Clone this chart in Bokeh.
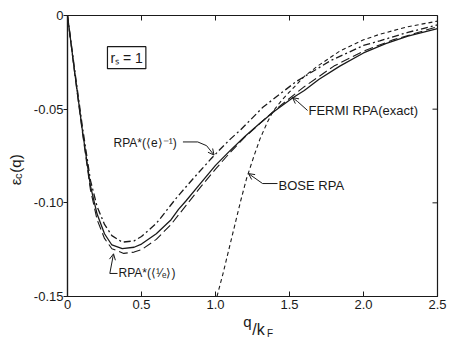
from bokeh.plotting import figure
from bokeh.models import Label, Arrow, OpenHead, FixedTicker, Range1d, LinearAxis
from bokeh.embed import file_html
from bokeh.resources import INLINE

# ---- data ----
q_fermi = [0, 0.05, 0.1, 0.155, 0.2, 0.25, 0.3, 0.37, 0.45, 0.5, 0.6, 0.7, 0.75, 0.8, 0.9,
           1.0, 1.1, 1.2, 1.3, 1.4, 1.52, 1.6, 1.7, 1.84, 2.0, 2.15, 2.3, 2.5]
eps_fermi = [0, -0.031, -0.061, -0.091, -0.106, -0.1165, -0.1225, -0.1245, -0.1237, -0.122,
             -0.1165, -0.109, -0.1035, -0.099, -0.0895, -0.080, -0.072, -0.0645, -0.0575,
             -0.051, -0.044, -0.040, -0.034, -0.027, -0.020, -0.015, -0.011, -0.007]

q_inv_e = [0, 0.05, 0.1, 0.155, 0.2, 0.25, 0.3, 0.37, 0.45, 0.5, 0.6, 0.74, 0.85, 0.97,
           1.03, 1.1, 1.17, 1.32, 1.45, 1.55, 1.78, 2.0, 2.11, 2.3, 2.5]
eps_inv_e = [0, -0.030, -0.059, -0.088, -0.102, -0.1115, -0.1175, -0.121, -0.1203, -0.118,
             -0.111, -0.097, -0.087, -0.0765, -0.0715, -0.066, -0.061, -0.049, -0.041, -0.035,
             -0.024, -0.016, -0.0135, -0.009, -0.005]

q_mean_inv = [0, 0.05, 0.1, 0.155, 0.2, 0.25, 0.3, 0.38, 0.45, 0.5, 0.6, 0.7, 0.8, 0.9,
              1.0, 1.1, 1.2, 1.4, 1.6, 1.8, 2.0, 2.2, 2.5]
eps_mean_inv = [0, -0.032, -0.062, -0.093, -0.109, -0.119, -0.1245, -0.127, -0.1263, -0.125,
                -0.1195, -0.1115, -0.1015, -0.0915, -0.082, -0.073, -0.0648, -0.0505, -0.038,
                -0.027, -0.019, -0.013, -0.006]

q_bose = [1.01, 1.05, 1.09, 1.13, 1.17, 1.21, 1.26, 1.30, 1.35, 1.39, 1.45, 1.51, 1.6,
          1.69, 1.84, 2.0, 2.11, 2.3, 2.5]
eps_bose = [-0.15, -0.138, -0.125, -0.112, -0.099, -0.087, -0.075, -0.066, -0.057, -0.051,
            -0.045, -0.040, -0.0325, -0.027, -0.019, -0.013, -0.010, -0.006, -0.003]

x_ticks = [0, 0.5, 1.0, 1.5, 2.0, 2.5]
x_tick_labels = ["0", "0.5", "1.0", "1.5", "2.0", "2.5"]
y_ticks = [0, -0.05, -0.10, -0.15]
y_tick_labels = ["0", "-0.05", "-0.10", "-0.15"]

FONT = "Liberation Sans"
INK = "#1a1a1a"

X0, X1, Y0, Y1 = 0, 2.5, -0.15, 0
p = figure(width=450, height=341, x_range=Range1d(X0, X1), y_range=Range1d(Y0, Y1),
           output_backend="svg", toolbar_location=None,
           min_border_left=67, min_border_right=13, min_border_top=15, min_border_bottom=45)
p.xgrid.visible = False
p.ygrid.visible = False
p.outline_line_color = INK
p.outline_line_width = 1.2
p.background_fill_color = "white"
p.border_fill_color = "white"

for ax, ticks, labels in ((p.xaxis[0], x_ticks, x_tick_labels), (p.yaxis[0], y_ticks, y_tick_labels)):
    ax.ticker = FixedTicker(ticks=ticks)
    ax.major_label_overrides = {t: l for t, l in zip(ticks, labels)}
    ax.minor_tick_line_color = None
    ax.axis_line_color = INK
    ax.axis_line_width = 1.2
    ax.major_tick_line_color = INK
    ax.major_label_text_font = FONT
    ax.major_label_text_font_size = "13px"
    ax.major_label_text_color = INK

p.xaxis.major_tick_in = 5
p.xaxis.major_tick_out = 0
p.xaxis.major_label_standoff = 3
p.yaxis.major_tick_in = 0
p.yaxis.major_tick_out = 4
p.yaxis.major_label_standoff = 0

# inward ticks on the top and right frame edges (5 px long)
tick_dy = 5 * (Y1 - Y0) / 281
tick_dx = 5 * (X1 - X0) / 370
top_x = x_ticks[1:-1]
p.segment(x0=top_x, y0=[Y1] * len(top_x), x1=top_x, y1=[Y1 - tick_dy] * len(top_x),
          line_color=INK, line_width=1)
right_y = y_ticks[1:-1]
p.segment(x0=[X1] * len(right_y), y0=right_y, x1=[X1 - tick_dx] * len(right_y), y1=right_y,
          line_color=INK, line_width=1)

# ---- curves ----
p.line(q_fermi, eps_fermi, line_color=INK, line_width=1.3)
p.line(q_inv_e, eps_inv_e, line_color=INK, line_width=1.3, line_dash="7 3 2 3")
p.line(q_mean_inv, eps_mean_inv, line_color=INK, line_width=1.1, line_dash="9 4")
p.line(q_bose, eps_bose, line_color=INK, line_width=1.1, line_dash="4 3")

# ---- annotations ----
def lab(x, y, text, size="13px", **kw):
    kw.setdefault("text_baseline", "middle")
    p.add_layout(Label(x=x, y=y, text=text, text_font=FONT, text_font_size=size,
                       text_color=INK, **kw))

def pointer(xs, ys):
    p.line(xs[:-1], ys[:-1], line_color=INK, line_width=1)
    p.add_layout(Arrow(end=OpenHead(size=6, line_color=INK, line_width=1),
                       x_start=xs[-2], y_start=ys[-2], x_end=xs[-1], y_end=ys[-1],
                       line_color=INK, line_width=1))

# r_s = 1 box
p.add_layout(Label(x=0.27, y=-0.0225, text="r\u209b = 1", text_font=FONT, text_font_size="14px",
                   text_color=INK, text_baseline="middle", border_line_color=INK,
                   border_line_width=1.2, padding=3))

lab(0.311, -0.0683, "RPA*(\u27e8e\u27e9\u207b\u00b9)", size="12px")
pointer([0.78, 0.88, 0.94, 0.99], [-0.0675, -0.0675, -0.0695, -0.0745])

lab(1.628, -0.0505, "FERMI RPA(exact)")
pointer([1.622, 1.554, 1.52], [-0.0507, -0.0459, -0.0438])

lab(1.426, -0.0905, "BOSE RPA")
pointer([1.419, 1.318, 1.223], [-0.0897, -0.0897, -0.0844])

lab(0.345, -0.1375, "RPA*(\u27e8\u00b9\u2044\u2091\u27e9)", size="12px")
pointer([0.338, 0.286, 0.311], [-0.1377, -0.1377, -0.1272])

# ---- axis titles built from label-only axes (so pieces can be raised/lowered) ----
def title_axis(side, ticks, labels, size, standoff, orient="horizontal"):
    ax = LinearAxis(ticker=FixedTicker(ticks=ticks),
                    major_label_overrides={t: l for t, l in zip(ticks, labels)},
                    axis_line_color=None, major_tick_line_color=None, minor_tick_line_color=None,
                    major_tick_in=0, major_tick_out=0, major_label_standoff=standoff,
                    major_label_text_font=FONT, major_label_text_font_size=size,
                    major_label_text_color=INK, major_label_orientation=orient)
    p.add_layout(ax, side)

# x title  q/k_F
title_axis("below", [1.215], ["q"], "15px", 1)
title_axis("below", [1.29], ["/k"], "16px", -12)
title_axis("below", [1.368], ["F"], "10px", -13)

# y title  eps_c(q)
title_axis("left", [-0.0858], ["c"], "11px", 6, "parallel")
title_axis("left", [-0.0888, -0.0790], ["\u03b5", "(q)"], "15px", -15, "parallel")

open("out.html", "w").write(file_html(p, INLINE))
